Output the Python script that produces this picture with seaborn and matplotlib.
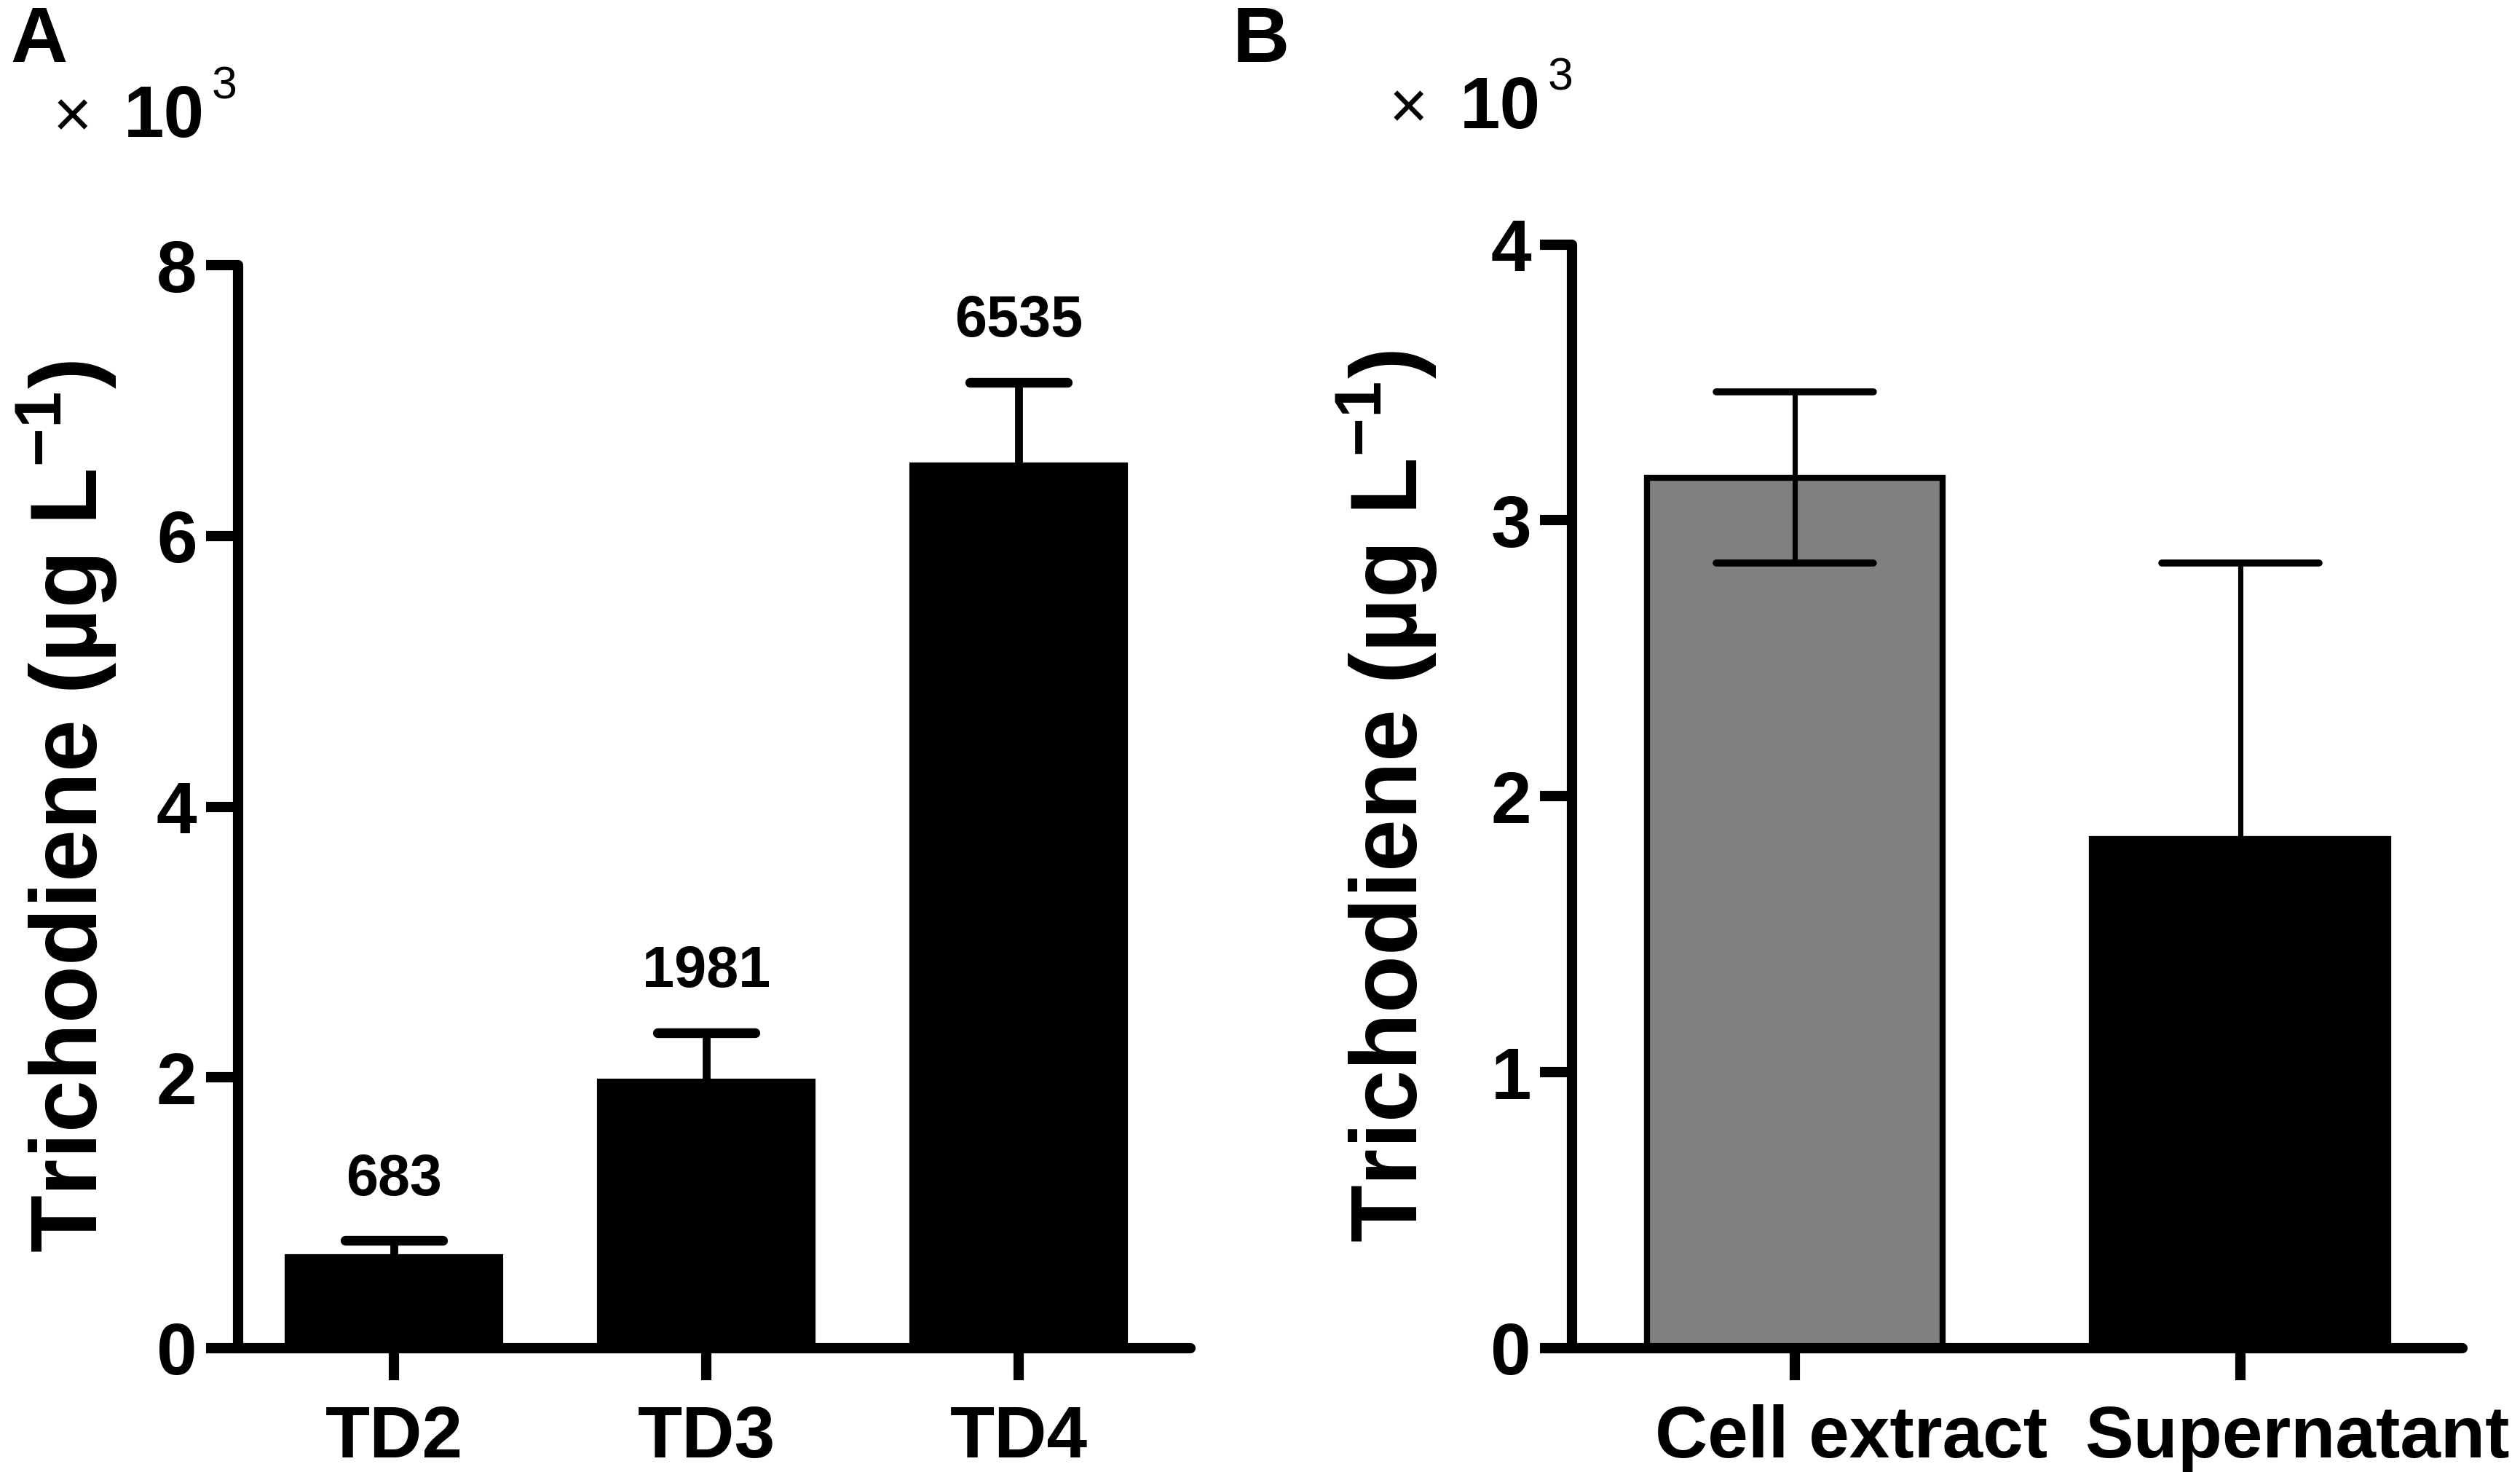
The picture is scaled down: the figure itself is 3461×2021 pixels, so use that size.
import numpy as np
import pandas as pd
import matplotlib
matplotlib.use('Agg')
import matplotlib.pyplot as plt
import matplotlib.transforms as mtransforms
from matplotlib.markers import MarkerStyle
import seaborn as sns

# panel A: trichodiene titre per strain (ug/L)
strains = ['TD2', 'TD3', 'TD4']
strain_mean = [683, 1981, 6535]
strain_sd = [110, 350, 600]

# panel B: where the trichodiene ends up (ug/L)
fractions = ['Cell extract', 'Supernatant']
fraction_mean = [3155, 1845]
fraction_sd = [310, 1000]
fraction_colors = ['#808080', '#000000']

A_ticks = [0, 2, 4, 6, 8]
B_ticks = [0, 1, 2, 3, 4]

sns.set_style('ticks')
plt.rcParams['font.family'] = ['Liberation Sans', 'DejaVu Sans']
plt.rcParams['mathtext.fontset'] = 'custom'
plt.rcParams['mathtext.bf'] = 'Liberation Sans:bold'
plt.rcParams['mathtext.rm'] = 'Liberation Sans'
for key in ['text.color', 'axes.labelcolor', 'xtick.color', 'ytick.color', 'axes.edgecolor']:
    plt.rcParams[key] = 'black'

SPINE_LW = 3.4
YLABEL = 'Trichodiene (µg L$^{\\mathbf{-1}}$)'


def style_axis(ax, ticks, label_x):
    for side in ['top', 'right']:
        ax.spines[side].set_visible(False)
    for side in ['left', 'bottom']:
        ax.spines[side].set_linewidth(SPINE_LW)
        ax.spines[side].set_capstyle('round')
    ax.set_ylim(ticks[0], ticks[-1])
    ax.set_yticks(ticks)
    ax.set_yticklabels([str(t) for t in ticks])
    ax.tick_params(axis='both', direction='out', length=10.5, width=SPINE_LW,
                   labelsize=24, color='black')
    ax.tick_params(axis='y', pad=3)
    ax.tick_params(axis='x', pad=8)
    for lab in ax.get_xticklabels() + ax.get_yticklabels():
        lab.set_fontweight('bold')
    ax.set_xlabel('')
    ax.set_ylabel(YLABEL, fontsize=31, fontweight='bold')
    ax.yaxis.set_label_coords(label_x, 0.5)


def round_caps(eb):
    # prism-like rounded cap ends
    for cap in eb[1]:
        cap.set_marker(MarkerStyle('_', capstyle='round'))


def times_ten(x, y):
    # "x 10^3" multiplier drawn above the y axis
    fig.text(x, y, '×', fontsize=22, ha='left', va='baseline')
    fig.text(x + 0.028, y, '10', fontsize=24, fontweight='bold', ha='left', va='baseline')
    fig.text(x + 0.063, y + 0.026, '3', fontsize=15, ha='left', va='baseline')


fig = plt.figure(figsize=(3462 / 300, 2021 / 300), dpi=300)
axA = fig.add_axes([0.0944, 0.0842, 0.378, 0.7355])
axB = fig.add_axes([0.6237, 0.0842, 0.3533, 0.7497])

# --- A ---
dfA = pd.DataFrame({'strain': strains, 'titre': np.array(strain_mean) / 1000})
sns.barplot(data=dfA, x='strain', y='titre', color='black', edgecolor='black',
            width=0.69, errorbar=None, ax=axA)
xa = np.arange(len(strains))
ebA = axA.errorbar(xa, dfA['titre'], yerr=np.array(strain_sd) / 1000, fmt='none',
                   ecolor='black', elinewidth=2.6, capsize=16, capthick=3.2)
round_caps(ebA)
for i, v in enumerate(strain_mean):
    axA.annotate(f'{v}', xy=(i, (v + strain_sd[i]) / 1000), xytext=(0, 11),
                 textcoords='offset points', ha='center', va='bottom',
                 fontsize=19, fontweight='bold')
axA.set_xlim(-0.5, 2.55)
style_axis(axA, A_ticks, -0.125)

# --- B ---
dfB = pd.DataFrame({'fraction': fractions, 'titre': np.array(fraction_mean) / 1000})
sns.barplot(data=dfB, x='fraction', y='titre', hue='fraction', palette=fraction_colors,
            edgecolor='black', linewidth=2.0, width=0.665, errorbar=None,
            legend=False, ax=axB)
xb = np.arange(len(fractions))
ebB = axB.errorbar(xb, dfB['titre'], yerr=np.array(fraction_sd) / 1000, fmt='none',
                   ecolor='black', elinewidth=1.7, capsize=26, capthick=2.3)
round_caps(ebB)
axB.set_xlim(-0.5, 1.5)
style_axis(axB, B_ticks, -0.15)
# category names sit a little right of their ticks in the original
shift = mtransforms.ScaledTranslation(0.26, 0, fig.dpi_scale_trans)
for lab in axB.get_xticklabels():
    lab.set_transform(lab.get_transform() + shift)

fig.text(0.004, 0.958, 'A', fontsize=26, fontweight='bold', ha='left', va='baseline')
fig.text(0.489, 0.958, 'B', fontsize=26, fontweight='bold', ha='left', va='baseline')
times_ten(0.021, 0.907)
times_ten(0.551, 0.913)

fig.savefig('out.png', dpi=300)
